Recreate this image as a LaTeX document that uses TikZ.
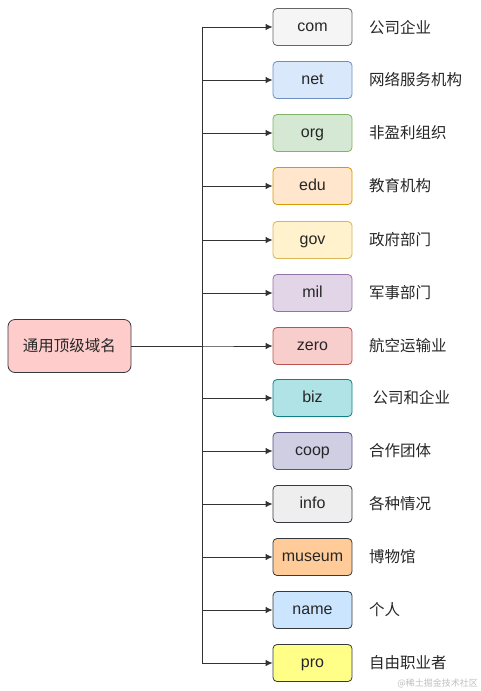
\documentclass[tikz,border=0pt]{standalone}
\usepackage{fontspec}
\setmainfont{Liberation Sans}
\newfontfamily\cjk{Noto Sans CJK SC}
\usetikzlibrary{arrows.meta}
\definecolor{c1f}{HTML}{F5F5F5}\definecolor{c1d}{HTML}{666666}
\definecolor{c2f}{HTML}{DAE8FC}\definecolor{c2d}{HTML}{6C8EBF}
\definecolor{c3f}{HTML}{D5E8D4}\definecolor{c3d}{HTML}{82B366}
\definecolor{c4f}{HTML}{FFE6CC}\definecolor{c4d}{HTML}{D79B00}
\definecolor{c5f}{HTML}{FFF2CC}\definecolor{c5d}{HTML}{D6B656}
\definecolor{c6f}{HTML}{E1D5E7}\definecolor{c6d}{HTML}{9673A6}
\definecolor{c7f}{HTML}{F8CECC}\definecolor{c7d}{HTML}{B85450}
\definecolor{c8f}{HTML}{B0E3E6}\definecolor{c8d}{HTML}{0E8088}
\definecolor{c9f}{HTML}{D0CEE2}\definecolor{c9d}{HTML}{56517E}
\definecolor{c10f}{HTML}{EEEEEE}\definecolor{dk}{HTML}{36393D}
\definecolor{c11f}{HTML}{FFCC99}
\definecolor{c12f}{HTML}{CCE5FF}
\definecolor{c13f}{HTML}{FFFF88}
\definecolor{rootf}{HTML}{FFCCCC}
\definecolor{linec}{HTML}{333333}
\begin{document}
\begin{tikzpicture}[x=1pt,y=-1pt,
  dom/.style={draw, rounded corners=4pt, minimum width=79pt, minimum height=37pt, inner sep=0pt, line width=0.8pt, font=\fontsize{16}{18}\selectfont, text=black!85, text height=11.5pt, text depth=3.5pt},
  lbl/.style={anchor=west, inner sep=0pt, font=\cjk\fontsize{15.5}{17}\selectfont, text=black!85},
  conn/.style={draw=linec, line width=0.9pt, -{Latex[length=7pt,width=6.5pt]}}]
\useasboundingbox (0,0) rectangle (481,691);
\node[draw, fill=rootf, draw=dk, line width=0.8pt, inner sep=0pt, minimum width=123pt, minimum height=53pt, rounded corners=7pt, text=black!85, font=\cjk\fontsize{15.5}{17}\selectfont] (root) at (69.5,346) {通用顶级域名};
\coordinate (j) at (202,346);
\foreach \n/\t/\f/\d/\y/\l in {
  com/com/c1f/c1d/27/公司企业,
  net/net/c2f/c2d/80/网络服务机构,
  org/org/c3f/c3d/133/非盈利组织,
  edu/edu/c4f/c4d/186/教育机构,
  gov/gov/c5f/c5d/240/政府部门,
  mil/mil/c6f/c6d/293/军事部门,
  zero/zero/c7f/c7d/346/航空运输业,
  biz/biz/c8f/c8d/398/\ 公司和企业,
  coop/coop/c9f/c9d/451/合作团体,
  info/info/c10f/dk/504/各种情况,
  museum/museum/c11f/dk/557/博物馆,
  name/name/c12f/dk/610/个人,
  pro/pro/c13f/dk/663/自由职业者}{
  \node[dom, fill=\f, draw=\d] (\n) at (312.5,\y) {\t};
  \node[lbl] (\n-l) at (369,\y) {\l};
  \draw[conn] (root.east) -- (j) |- (\n.west);
}
\node[anchor=east, inner sep=0pt, font=\cjk\fontsize{9}{10}\selectfont, text=black!25] (wm) at (478,683) {@稀土掘金技术社区};
\end{tikzpicture}
\end{document}
